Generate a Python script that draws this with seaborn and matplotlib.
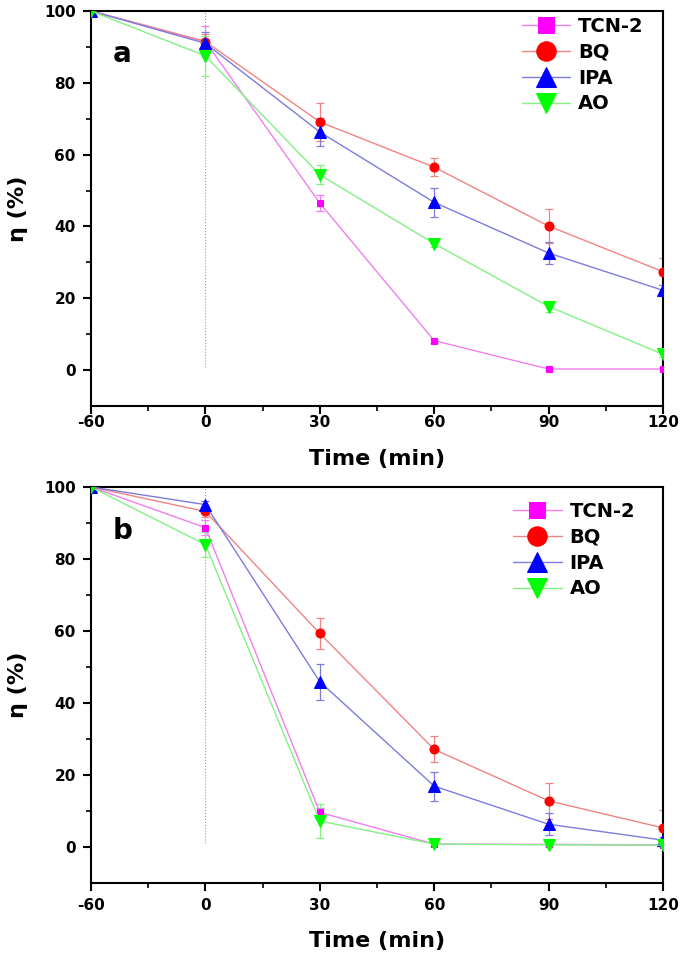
import numpy as np
import matplotlib
matplotlib.use("Agg")
import matplotlib.pyplot as plt
import seaborn as sns

# Time points (evenly spaced on the axis)
times = ["-60", "0", "30", "60", "90", "120"]
series = ["TCN-2", "BQ", "IPA", "AO"]

# Panel a
a_tcn = [100, 91.5, 46.5, 8.2, 0.3, 0.3]
a_bq = [100, 91.5, 69.1, 56.5, 40.1, 27.4]
a_ipa = [100, 91.0, 66.3, 46.7, 32.6, 22.2]
a_ao = [100, 87.5, 54.4, 35.2, 17.7, 4.4]
a_tcn_err = [0, 4.2, 2.3, 0.6, 0.4, 0.4]
a_bq_err = [0, 2.0, 5.3, 2.5, 4.7, 3.7]
a_ipa_err = [0, 3.2, 4.0, 4.0, 3.0, 1.5]
a_ao_err = [0, 5.5, 2.7, 1.0, 1.5, 0.8]

# Panel b
b_tcn = [100, 88.7, 9.6, 0.8, 0.7, 0.6]
b_bq = [100, 93.2, 59.3, 27.1, 12.8, 5.3]
b_ipa = [100, 95.1, 45.9, 16.9, 6.3, 1.9]
b_ao = [100, 84.0, 7.2, 0.8, 0.6, 0.5]
b_tcn_err = [0, 2.0, 1.2, 0.5, 0.5, 0.4]
b_bq_err = [0, 1.5, 4.3, 3.6, 5.0, 5.0]
b_ipa_err = [0, 1.0, 5.0, 4.0, 3.0, 1.0]
b_ao_err = [0, 3.5, 4.6, 0.6, 0.5, 0.4]

sns.set_style("ticks")
plt.rcParams["font.family"] = ["DejaVu Sans"]
plt.rcParams["font.weight"] = "bold"
for key in ["text.color", "axes.labelcolor", "xtick.color", "ytick.color", "axes.edgecolor"]:
    plt.rcParams[key] = "black"

line_cols = ["#f07ef0", "#f08484", "#7c7cdc", "#84f084"]
mark_cols = ["#ff00ff", "#ff0000", "#0000ff", "#00ff00"]
markers = ["s", "o", "^", "v"]
msizes = [5, 6.5, 8, 8]
leg_sizes = [11, 14, 15, 15]

fig = plt.figure(figsize=(6.85, 9.56), dpi=100)
ax_a = fig.add_axes([0.1328, 0.5753, 0.8352, 0.4132])
ax_b = fig.add_axes([0.1328, 0.0764, 0.8352, 0.4142])

pos = np.arange(len(times))

panels = [
    (ax_a, "a", [a_tcn, a_bq, a_ipa, a_ao], [a_tcn_err, a_bq_err, a_ipa_err, a_ao_err], 0.5, -0.109, (0.753, 0.985)),
    (ax_b, "b", [b_tcn, b_bq, b_ipa, b_ao], [b_tcn_err, b_bq_err, b_ipa_err, b_ao_err], 5, -0.121, (0.738, 0.962)),
]

for ax, tag, vals, errs, xpad, xlab_y, leg_anchor in panels:
    # dotted marker line at t = 0
    ax.vlines(times.index("0"), 1, 100, color="#999999", ls=":", lw=0.8, zorder=1)
    for i, name in enumerate(series):
        ax.errorbar(pos, vals[i], yerr=errs[i], fmt="none", ecolor=line_cols[i],
                    elinewidth=0.9, capsize=3, capthick=0.9, zorder=2)
        sns.lineplot(x=pos, y=vals[i], ax=ax, color=line_cols[i], lw=1,
                     marker=markers[i], markersize=msizes[i],
                     markerfacecolor=mark_cols[i], markeredgecolor=mark_cols[i],
                     label=name, zorder=3)
    ax.set_xlim(0, len(times) - 1)
    ax.set_ylim(-10, 100)
    ax.set_xticks(pos)
    ax.set_xticklabels(times)
    ax.set_xticks(pos[:-1] + 0.5, minor=True)
    ax.set_yticks([0, 20, 40, 60, 80, 100])
    ax.set_yticks([10, 30, 50, 70, 90], minor=True)
    ax.tick_params(axis="both", which="major", direction="out", length=6, width=1.5,
                   labelsize=11)
    ax.tick_params(axis="both", which="minor", direction="out", length=3.5, width=1.2)
    ax.tick_params(axis="x", which="major", pad=xpad)
    ax.tick_params(axis="y", which="major", pad=5)
    for lbl in ax.get_xticklabels() + ax.get_yticklabels():
        lbl.set_fontweight("bold")
    for sp in ax.spines.values():
        sp.set_linewidth(1.5)
        sp.set_color("black")
    ax.set_xlabel("Time (min)", fontsize=16, fontweight="bold")
    ax.set_ylabel("η (%)", fontsize=16, fontweight="bold")
    ax.xaxis.set_label_coords(0.5, xlab_y)
    ax.yaxis.set_label_coords(-0.11, 0.5)
    ax.text(0.038, 0.89, tag, transform=ax.transAxes, fontsize=20, fontweight="bold",
            va="center", ha="left")
    leg = ax.legend(loc="upper left", bbox_to_anchor=leg_anchor, frameon=False,
                    fontsize=14, handlelength=2.5, handletextpad=0.4,
                    labelspacing=0.35, borderpad=0, borderaxespad=0)
    for h, s in zip(leg.legend_handles, leg_sizes):
        h.set_markersize(s)
    for t in leg.get_texts():
        t.set_fontweight("bold")

fig.savefig("out.png", dpi=100)
